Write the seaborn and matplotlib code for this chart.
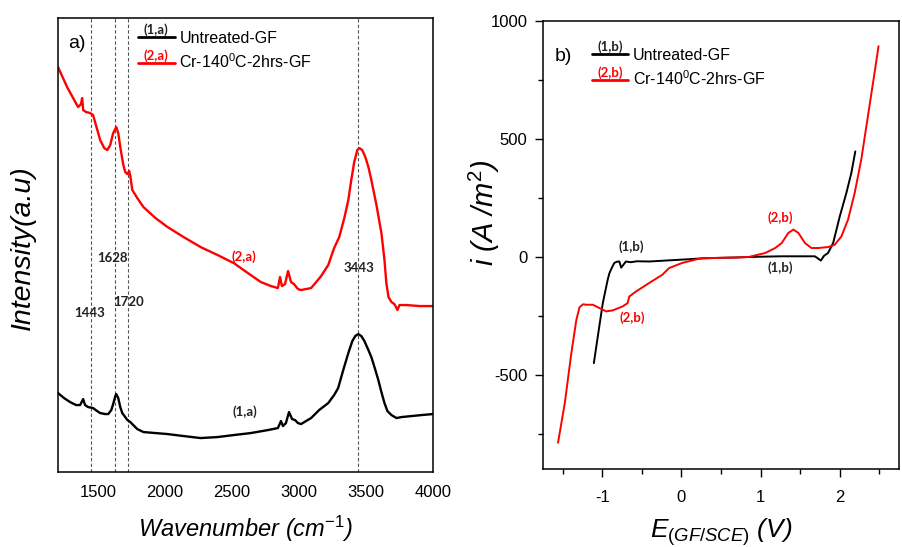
import matplotlib
matplotlib.use("Agg")
import matplotlib.pyplot as plt
import seaborn as sns
import numpy as np
import pandas as pd

# ---------------- FTIR spectra (panel a) ----------------
wn_treated = [1200, 1268, 1350, 1372, 1380, 1388, 1410, 1440, 1462, 1515, 1545, 1568, 1590,
              1612, 1635, 1650, 1665, 1688, 1702, 1718, 1732, 1740, 1755, 1792, 1838, 1928,
              2018, 2138, 2265, 2392, 2512, 2618, 2715, 2790, 2842, 2858, 2872, 2895, 2918,
              2940, 2962, 2992, 3015, 3052, 3090, 3128, 3165, 3218, 3262, 3300, 3338, 3368,
              3390, 3412, 3435, 3450, 3472, 3495, 3518, 3540, 3578, 3615, 3638, 3652, 3668,
              3690, 3712, 3735, 3750, 3802, 3900, 4000]
int_treated = [405, 385, 365, 368, 374, 362, 360, 359, 357, 332, 324, 322, 327,
               339, 345, 339, 325, 307, 300, 298, 301, 296, 282, 274, 265, 254,
               245, 235, 225, 217, 209, 199, 190, 186, 184, 195, 186, 188, 201,
               190, 188, 183, 182, 183, 184, 190, 196, 207, 224, 235, 254, 272,
               292, 310, 322, 324, 322, 315, 305, 292, 267, 239, 212, 189, 175,
               170, 168, 162, 167, 167, 166, 166]

wn_untreated = [1200, 1245, 1290, 1335, 1365, 1388, 1402, 1425, 1462, 1492, 1515, 1552, 1575,
                1598, 1612, 1628, 1635, 1650, 1665, 1680, 1702, 1718, 1740, 1762, 1792, 1838,
                1928, 2018, 2138, 2265, 2392, 2512, 2640, 2768, 2842, 2865, 2880, 2902, 2925,
                2948, 2970, 2992, 3015, 3052, 3090, 3150, 3218, 3262, 3292, 3330, 3368, 3398,
                3420, 3442, 3465, 3488, 3518, 3540, 3570, 3592, 3615, 3638, 3660, 3690, 3728,
                3765, 3840, 3915, 4000]
int_untreated = [79, 74, 70, 67, 67, 73, 67, 65, 64, 61, 59, 58, 58,
                 62, 68, 76, 78, 74, 65, 59, 55, 52, 50, 47, 43, 40,
                 39, 38, 36, 34, 35, 37, 39, 42, 44, 51, 46, 49, 60,
                 53, 52, 49, 48, 51, 54, 62, 69, 77, 84, 102, 119, 131,
                 136, 138, 136, 131, 122, 115, 102, 92, 80, 69, 61, 57, 54,
                 55, 56, 57, 58]

peak_positions = [1443, 1628, 1720, 3443]
peak_labels = ["1443", "1628", "1720", "3443"]
peak_label_xy = [(1432, 159), (1605, 214), (1725, 170), (3450, 204)]

# ---------------- polarization curves (panel b) ----------------
e_treated = [-1.557, -1.472, -1.389, -1.326, -1.285, -1.240, -1.200, -1.118, -1.034, -0.950,
             -0.867, -0.742, -0.679, -0.657, -0.573, -0.407, -0.240, -0.156, 0.011, 0.262,
             0.430, 0.681, 0.848, 1.058, 1.183, 1.266, 1.350, 1.413, 1.476, 1.560,
             1.642, 1.726, 1.851, 1.936, 2.019, 2.103, 2.187, 2.270, 2.354, 2.438, 2.488]
i_treated = [-786, -619, -407, -266, -212, -200, -202, -202, -216, -230,
             -226, -209, -195, -167, -146, -110, -75, -47, -25, -4,
             -4, -2, 0, 17, 38, 59, 102, 116, 102, 59,
             38, 38, 42, 52, 87, 158, 271, 412, 596, 780, 892]

e_untreated = [-1.105, -1.055, -0.992, -0.930, -0.908, -0.870, -0.846, -0.815, -0.783, -0.760,
               -0.700, -0.640, -0.560, -0.407, -0.200, 0.011, 0.200, 0.430, 0.700, 0.848,
               1.100, 1.266, 1.500, 1.685, 1.760, 1.800, 1.851, 1.915, 1.999, 2.082,
               2.145, 2.195]
i_untreated = [-449, -336, -195, -96, -68, -40, -25, -20, -19, -45,
               -19, -22, -18, -19, -15, -11, -7, -4, -2, 0,
               2, 3, 3, 3, -15, 5, 17, 59, 172, 271,
               356, 447]

series_names = ["Untreated-GF", "Cr-140$^0$C-2hrs-GF"]
series_colors = ["black", "#ff0000"]

sns.set_style("white")
plt.rcParams["font.family"] = ["Liberation Sans", "DejaVu Sans"]
plt.rcParams["mathtext.fontset"] = "custom"
plt.rcParams["mathtext.rm"] = "Liberation Sans"
plt.rcParams["mathtext.it"] = "Liberation Sans:italic"
plt.rcParams["mathtext.bf"] = "Liberation Sans:bold"
plt.rcParams["axes.unicode_minus"] = False
plt.rcParams["text.color"] = "black"
plt.rcParams["axes.labelcolor"] = "black"
plt.rcParams["xtick.color"] = "black"
plt.rcParams["ytick.color"] = "black"

fig = plt.figure(figsize=(9.02, 5.47), dpi=100)
ax_a = fig.add_axes([0.0643, 0.137, 0.4157, 0.830])
ax_b = fig.add_axes([0.6017, 0.1426, 0.3953, 0.8196])

small_bold = dict(family=["Lato", "DejaVu Sans"], fontweight="bold", fontsize=9.5)

# ---- panel a ----
df_a = pd.concat([
    pd.DataFrame({"wn": wn_untreated, "I": int_untreated, "s": series_names[0]}),
    pd.DataFrame({"wn": wn_treated, "I": int_treated, "s": series_names[1]}),
])
sns.lineplot(data=df_a, x="wn", y="I", hue="s", palette=series_colors,
             estimator=None, sort=False, linewidth=1.7, ax=ax_a, legend=False)
for p in peak_positions:
    ax_a.axvline(p, color="#555555", linestyle=(0, (3, 2)), linewidth=0.8, zorder=0)
for lab, (x, y) in zip(peak_labels, peak_label_xy):
    ax_a.text(x, y, lab, ha="center", va="center", color="#222222", **small_bold)
ax_a.text(2588, 215, "(2,a)", ha="center", va="center", color="#ff0000", **small_bold)
ax_a.text(2595, 60, "(1,a)", ha="center", va="center", color="#222222", **small_bold)

ax_a.set_xlim(1200, 4000)
ax_a.set_ylim(0, 454)
ax_a.set_xticks([1500, 2000, 2500, 3000, 3500, 4000])
ax_a.set_yticks([])
ax_a.tick_params(axis="x", length=0, pad=9, labelsize=12)
ax_a.set_xlabel("Wavenumber (cm$^{-1}$)", fontsize=17, style="italic", labelpad=10)
ax_a.set_ylabel("Intensity(a.u)", fontsize=20.5, style="italic")
ax_a.yaxis.set_label_coords(-0.058, 0.495)
ax_a.text(0.051, 0.945, "a)", transform=ax_a.transAxes, fontsize=14, ha="center", va="center")

# ---- panel b ----
df_b = pd.concat([
    pd.DataFrame({"E": e_untreated, "i": i_untreated, "s": series_names[0]}),
    pd.DataFrame({"E": e_treated, "i": i_treated, "s": series_names[1]}),
])
sns.lineplot(data=df_b, x="E", y="i", hue="s", palette=series_colors,
             estimator=None, sort=False, linewidth=1.4, ax=ax_b, legend=False)
ax_b.text(-0.636, 45, "(1,b)", ha="center", va="center", color="#222222", **small_bold)
ax_b.text(1.246, -47, "(1,b)", ha="center", va="center", color="#222222", **small_bold)
ax_b.text(1.246, 165, "(2,b)", ha="center", va="center", color="#ff0000", **small_bold)
ax_b.text(-0.624, -258, "(2,b)", ha="center", va="center", color="#ff0000", **small_bold)

ax_b.set_xlim(-1.75, 2.75)
ax_b.set_ylim(-897, 1000)
ax_b.set_xticks([-1, 0, 1, 2])
ax_b.set_xticks([-1.5, -0.5, 0.5, 1.5, 2.5], minor=True)
ax_b.set_yticks([-500, 0, 500, 1000])
ax_b.set_yticks([-750, -250, 250, 750], minor=True)
ax_b.tick_params(which="major", direction="out", length=6, width=1, labelsize=12,
                 bottom=True, left=True)
ax_b.tick_params(which="minor", direction="out", length=3.5, width=1, bottom=True, left=True)
ax_b.tick_params(axis="x", which="major", pad=9)
ax_b.tick_params(axis="y", which="major", pad=5)
ax_b.set_xlabel("$E_{(GF/SCE)}$ (V)", fontsize=19, style="italic", labelpad=8)
ax_b.set_ylabel("$i$ (A /m$^2$)", fontsize=21, style="italic")
ax_b.yaxis.set_label_coords(-0.115, 0.572)
ax_b.text(0.057, 0.919, "b)", transform=ax_b.transAxes, fontsize=14, ha="center", va="center")

for ax in (ax_a, ax_b):
    for sp in ax.spines.values():
        sp.set_visible(True)
        sp.set_color("black")
        sp.set_linewidth(1.1)

# ---- legends with the series tags above each key ----
def tagged_legend(ax, anchor, tags):
    handles = [plt.Line2D([], [], color=c, linewidth=2) for c in series_colors]
    leg = ax.legend(handles, series_names, loc="upper left", bbox_to_anchor=anchor,
                    frameon=False, fontsize=11.5, handlelength=2.3, handletextpad=0.3,
                    labelspacing=0.45, borderpad=0, borderaxespad=0)
    fig.canvas.draw()
    renderer = fig.canvas.get_renderer()
    inv = ax.transAxes.inverted()
    for line, tag, col in zip(leg.get_lines(), tags, series_colors):
        bb = line.get_window_extent(renderer)
        x, y = inv.transform(((bb.x0 + bb.x1) / 2, bb.y1 + 1))
        ax.text(x, y, tag, transform=ax.transAxes, ha="center", va="bottom",
                color=col if col != "black" else "#222222", **small_bold)

tagged_legend(ax_a, (0.213, 0.9725), ["(1,a)", "(2,a)"])
tagged_legend(ax_b, (0.137, 0.940), ["(1,b)", "(2,b)"])

fig.savefig("out.png", dpi=100)
